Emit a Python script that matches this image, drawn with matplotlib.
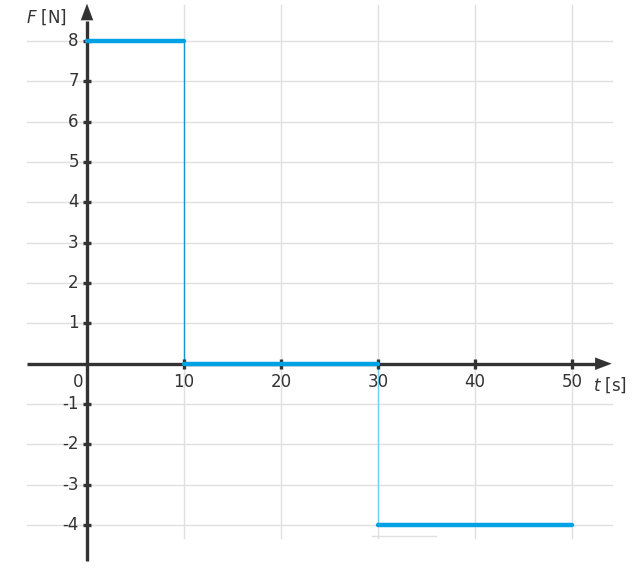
import matplotlib.pyplot as plt

# step force F(t)
seg_t0 = [0, 10, 30]
seg_t1 = [10, 30, 50]
seg_f = [8, 0, -4]

x_ticks = [10, 20, 30, 40, 50]
y_ticks = [-4, -3, -2, -1, 1, 2, 3, 4, 5, 6, 7, 8]

AX = "#333333"
BLUE = "#00a2e3"

fig = plt.figure(figsize=(6.36, 5.75), dpi=100)
ax = fig.add_axes([0, 0, 1, 1])
ax.set_xlim(-8.97, 56.6)
ax.set_ylim(-5.24, 9.02)
ax.axis("off")

# grid
for yv in y_ticks:
    ax.plot([-6.2, 54.1], [yv, yv], color="#e0e0e0", lw=1, zorder=1)
for xv in x_ticks:
    ax.plot([xv, xv], [-4.33, 8.9], color="#e0e0e0", lw=1, zorder=1)
ax.plot([29.4, 36.0], [-4.27, -4.27], color="#e0e0e0", lw=1, zorder=1)

# axes with arrows
ax.plot([-6.2, 52.5], [0, 0], color=AX, lw=2.4, zorder=3, solid_capstyle="butt")
ax.plot([0, 0], [-4.9, 8.5], color=AX, lw=2.4, zorder=3, solid_capstyle="butt")
head = dict(arrowstyle="-|>,head_length=1.2,head_width=0.45", color=AX, lw=0, shrinkA=0, shrinkB=0)
ax.annotate("", xy=(54.1, 0), xytext=(52.0, 0), arrowprops=head, zorder=4)
ax.annotate("", xy=(0, 8.93), xytext=(0, 8.4), arrowprops=head, zorder=4)

# ticks
for xv in x_ticks:
    ax.plot([xv, xv], [-0.12, 0.12], color=AX, lw=2.4, zorder=4, solid_capstyle="butt")
    ax.text(xv, -0.22, str(xv), ha="center", va="top", fontsize=12, color=AX)
for yv in y_ticks:
    ax.plot([-0.45, 0.45], [yv, yv], color=AX, lw=2.4, zorder=4, solid_capstyle="butt")
    ax.text(-0.85, yv, str(yv), ha="right", va="center", fontsize=12, color=AX)
ax.text(-0.4, -0.22, "0", ha="right", va="top", fontsize=12, color=AX)

ax.text(-2.1, 8.6, "$\\it{F}$ [N]", ha="right", va="center", fontsize=12, color=AX)
ax.text(52.2, -0.53, "$\\it{t}$ [s]", ha="left", va="center", fontsize=12, color=AX)

# function segments
for a, b, f in zip(seg_t0, seg_t1, seg_f):
    ax.plot([a, b], [f, f], color=BLUE, lw=3.2, zorder=5, solid_capstyle="round")
ax.plot([seg_t1[0], seg_t1[0]], [seg_f[1], seg_f[0]], color="#1e8fd0", lw=1, zorder=2)
ax.plot([seg_t1[1], seg_t1[1]], [seg_f[2], seg_f[1]], color="#6fcff5", lw=1, zorder=2)

fig.savefig("out.png", dpi=100)
